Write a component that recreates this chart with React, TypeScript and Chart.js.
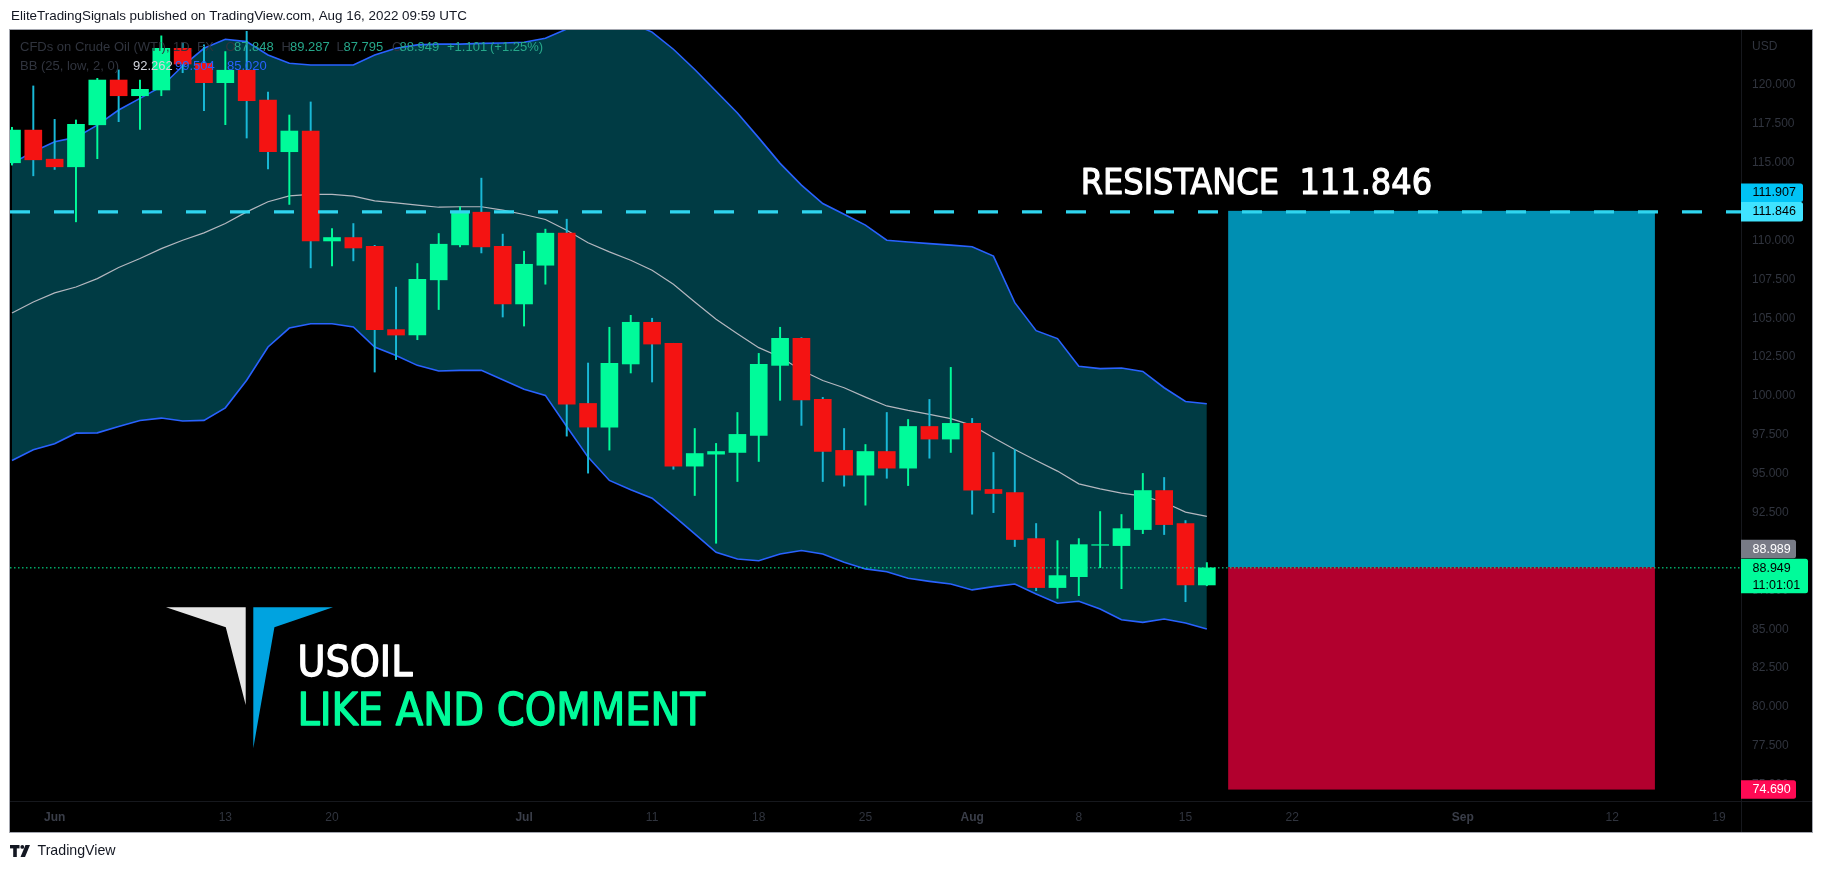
import React, { useEffect, useRef } from 'react';
import { Chart, registerables } from 'chart.js';

Chart.register(...registerables);

// ---------- data ----------
const barDates = [
  'May 27', 'May 31', 'Jun 1', 'Jun 2', 'Jun 3', 'Jun 6', 'Jun 7', 'Jun 8', 'Jun 9', 'Jun 10',
  'Jun 13', 'Jun 14', 'Jun 15', 'Jun 16', 'Jun 17', 'Jun 20', 'Jun 21', 'Jun 22', 'Jun 23', 'Jun 24',
  'Jun 27', 'Jun 28', 'Jun 29', 'Jun 30', 'Jul 1', 'Jul 4', 'Jul 5', 'Jul 6', 'Jul 7', 'Jul 8',
  'Jul 11', 'Jul 12', 'Jul 13', 'Jul 14', 'Jul 15', 'Jul 18', 'Jul 19', 'Jul 20', 'Jul 21', 'Jul 22',
  'Jul 25', 'Jul 26', 'Jul 27', 'Jul 28', 'Jul 29', 'Aug 1', 'Aug 2', 'Aug 3', 'Aug 4', 'Aug 5',
  'Aug 8', 'Aug 9', 'Aug 10', 'Aug 11', 'Aug 12', 'Aug 15', 'Aug 16',
];
const opens = [
  115.0, 117.1, 115.23, 114.74, 117.44, 120.32, 119.31, 119.68, 122.36, 121.39,
  120.15, 120.95, 119.03, 115.71, 117.04, 109.97, 110.19, 109.63, 104.27, 103.92,
  107.47, 109.72, 111.82, 109.63, 105.92, 108.41, 110.47, 99.52, 98.0, 102.06,
  104.74, 103.39, 95.49, 96.26, 96.37, 97.46, 101.97, 103.71, 99.78, 96.5,
  94.91, 96.43, 95.36, 98.04, 97.23, 98.24, 93.99, 93.79, 90.83, 87.68,
  88.38, 90.4, 90.38, 91.41, 93.92, 91.8, 87.848,
];
const highs = [
  117.28, 119.94, 117.79, 117.75, 120.43, 120.97, 120.32, 123.16, 122.7, 122.58,
  122.15, 123.45, 119.55, 118.07, 118.91, 110.77, 111.09, 109.69, 107.0, 108.52,
  110.45, 112.17, 114.01, 110.41, 109.31, 110.73, 111.37, 102.12, 104.42, 105.19,
  105.0, 103.39, 97.91, 96.95, 98.94, 102.74, 104.42, 103.75, 99.91, 97.91,
  96.88, 98.94, 98.49, 99.78, 101.84, 98.56, 96.37, 96.56, 91.8, 90.7,
  90.83, 92.57, 92.38, 95.02, 94.76, 91.99, 89.287,
];
const lows = [
  114.85, 114.16, 114.57, 111.2, 115.26, 117.64, 117.15, 119.31, 120.79, 118.35,
  117.45, 116.59, 114.61, 112.32, 108.24, 108.37, 108.69, 101.54, 102.34, 103.62,
  105.56, 109.59, 109.2, 105.08, 104.5, 107.19, 97.42, 95.04, 96.52, 101.48,
  100.9, 95.29, 93.6, 90.53, 94.5, 95.79, 99.72, 98.11, 94.5, 94.2,
  92.98, 94.71, 94.24, 96.0, 96.37, 92.4, 92.5, 90.32, 87.48, 86.99,
  87.16, 88.96, 87.61, 91.15, 91.09, 86.77, 87.795,
];
const closes = [
  117.1, 115.19, 114.74, 117.47, 120.32, 119.31, 119.72, 122.36, 121.35, 120.15,
  120.95, 118.99, 115.71, 117.04, 109.97, 110.19, 109.52, 104.27, 103.92, 107.51,
  109.76, 111.84, 109.59, 105.92, 108.47, 110.47, 99.48, 98.0, 102.1, 104.74,
  103.34, 95.49, 96.3, 96.43, 97.53, 102.03, 103.71, 99.74, 96.43, 94.91,
  96.43, 95.36, 98.04, 97.23, 98.24, 93.94, 93.73, 90.77, 87.68, 88.45,
  90.44, 90.44, 91.47, 93.92, 91.73, 87.848, 88.949,
];
// Bollinger Bands (25, low, 2, 0)
const bbUpper = [
  114.96, 115.71, 116.35, 116.63, 117.42, 118.39, 119.14, 119.89, 121.22, 122.36,
  122.94, 122.79, 121.93, 121.4, 121.29, 121.29, 121.29, 121.93, 122.36, 122.58,
  122.63, 122.63, 122.68, 122.7, 122.75, 123.0, 123.6, 124.2, 124.4, 124.0,
  123.4, 122.3, 121.0, 119.6, 118.2, 116.6, 114.96, 113.56, 112.38, 111.69,
  110.99, 110.02, 109.9, 109.8, 109.7, 109.6, 109.0, 106.0, 104.2, 103.69,
  101.91, 101.76, 101.8, 101.58, 100.53, 99.65, 99.504,
];
const bbBasis = [
  105.34, 106.05, 106.63, 107.01, 107.55, 108.26, 108.84, 109.48, 110.02, 110.49,
  111.09, 111.84, 112.49, 112.87, 112.96, 112.96, 112.85, 112.55, 112.42, 112.27,
  112.14, 112.17, 112.17, 111.95, 111.67, 111.35, 110.66, 109.85, 109.27, 108.73,
  108.09, 107.19, 106.05, 104.93, 104.01, 103.11, 102.51, 101.65, 101.0, 100.53,
  99.93, 99.36, 99.07, 98.82, 98.54, 98.11, 97.31, 96.56, 95.85, 95.17,
  94.35, 94.03, 93.75, 93.56, 93.17, 92.53, 92.262,
];
const bbLower = [
  95.85, 96.54, 96.93, 97.61, 97.63, 98.04, 98.43, 98.58, 98.39, 98.43,
  99.24, 101.01, 103.15, 104.37, 104.65, 104.65, 104.44, 103.15, 102.61, 101.97,
  101.61, 101.65, 101.65, 101.05, 100.43, 100.04, 98.04, 96.07, 94.57, 93.97,
  93.43, 92.31, 91.13, 89.95, 89.52, 89.41, 89.84, 90.06, 89.84, 89.31,
  88.88, 88.7, 88.28, 88.08, 87.91, 87.53, 87.74, 87.91, 87.27, 86.67,
  86.8, 86.3, 85.61, 85.44, 85.66, 85.4, 85.02,
];
const timeTickIndex = [2, 10, 15, 24, 30, 35, 40, 45, 50, 55, 60, 68, 75, 80];
const timeTickLabels = ['Jun', '13', '20', 'Jul', '11', '18', '25', 'Aug', '8', '15', '22', 'Sep', '12', '19'];
const priceTicks = [75, 77.5, 80, 82.5, 85, 87.5, 90, 92.5, 95, 97.5, 100, 102.5, 105, 107.5, 110, 112.5, 115, 117.5, 120];
const resistanceLevel = 111.846;
const lastPrice = 88.949;
const prevClose = 87.848;
const positionEntry = 88.989;
const positionTarget = 111.907;
const positionStop = 74.69;
const positionStartIndex = 57;
const positionEndIndex = 77;
const legendTitle = 'CFDs on Crude Oil (WTI), 1D, FX';
const bbTitle = 'BB (25, low, 2, 0)';

// ---------- view ----------
const VIEW_X_MIN = -0.092;
const VIEW_X_MAX = 81.035;
const VIEW_Y_MIN = 73.955;
const VIEW_Y_MAX = 123.537;

const W = 1823;
const H = 872;
const UP = '#00fb9a';
const DOWN = '#f41312';
const DOWN_WICK = '#19b9d7';
const DIM = '#30343e';
const SANS = '"Liberation Sans", Arial, sans-serif';
const COND = '"DejaVu Sans Condensed", "DejaVu Sans", sans-serif';

function roundRectRight(ctx: CanvasRenderingContext2D, x: number, y: number, w: number, h: number, r: number) {
  ctx.beginPath();
  ctx.moveTo(x, y);
  ctx.lineTo(x + w - r, y);
  ctx.quadraticCurveTo(x + w, y, x + w, y + r);
  ctx.lineTo(x + w, y + h - r);
  ctx.quadraticCurveTo(x + w, y + h, x + w - r, y + h);
  ctx.lineTo(x, y + h);
  ctx.closePath();
}

function heavyText(ctx: CanvasRenderingContext2D, text: string, x: number, y: number, color: string, size: number) {
  ctx.font = `${size}px ${COND}`;
  ctx.fillStyle = color;
  ctx.strokeStyle = color;
  ctx.lineWidth = size * 0.03;
  ctx.lineJoin = 'round';
  ctx.fillText(text, x, y);
  ctx.strokeText(text, x, y);
}

export default function App() {
  const ref = useRef<HTMLCanvasElement>(null);

  useEffect(() => {
    document.body.style.margin = '0';
    document.body.style.background = '#ffffff';
    const canvas = ref.current!;
    const idx = closes.map((_, i) => i);
    const isUp = idx.map((i) => closes[i] >= opens[i]);

    const decor = {
      id: 'decor',
      beforeDraw(chart: any) {
        const ctx: CanvasRenderingContext2D = chart.ctx;
        ctx.save();
        ctx.fillStyle = '#ffffff';
        ctx.fillRect(0, 0, W, H);
        ctx.fillStyle = '#000000';
        ctx.fillRect(10, 30, 1802, 802);
        // header
        ctx.fillStyle = '#131722';
        ctx.font = `13.4px ${SANS}`;
        ctx.textBaseline = 'middle';
        ctx.textAlign = 'left';
        ctx.fillText('EliteTradingSignals published on TradingView.com, Aug 16, 2022 09:59 UTC', 11, 16.5);
        // footer logo + text
        ctx.fillStyle = '#131722';
        ctx.fillRect(10, 845, 9.5, 3.4);
        ctx.fillRect(13.2, 845, 3.6, 12);
        ctx.beginPath();
        ctx.arc(22.3, 846.9, 1.9, 0, Math.PI * 2);
        ctx.fill();
        ctx.beginPath();
        ctx.moveTo(25.5, 845);
        ctx.lineTo(30, 845);
        ctx.lineTo(25, 857);
        ctx.lineTo(20.5, 857);
        ctx.closePath();
        ctx.fill();
        ctx.font = `14.2px ${SANS}`;
        ctx.fillText('TradingView', 37.5, 851.5);
        ctx.restore();
      },
      beforeDatasetsDraw(chart: any) {
        const ctx: CanvasRenderingContext2D = chart.ctx;
        const xs = chart.scales.x;
        const ys = chart.scales.y;
        const x0 = xs.getPixelForValue(positionStartIndex);
        const x1 = xs.getPixelForValue(positionEndIndex);
        const yT = ys.getPixelForValue(positionTarget);
        const yE = ys.getPixelForValue(positionEntry);
        const yS = ys.getPixelForValue(positionStop);
        ctx.save();
        ctx.fillStyle = '#008fb2';
        ctx.fillRect(x0, yT, x1 - x0, yE - yT);
        ctx.fillStyle = '#b2002e';
        ctx.fillRect(x0, yE, x1 - x0, yS - yE);
        ctx.restore();
      },
      afterDatasetsDraw(chart: any) {
        const ctx: CanvasRenderingContext2D = chart.ctx;
        const ys = chart.scales.y;
        const xs = chart.scales.x;
        ctx.save();
        // logo
        ctx.fillStyle = '#e6e6e6';
        ctx.beginPath();
        ctx.moveTo(166, 607.3);
        ctx.lineTo(245.7, 607.3);
        ctx.lineTo(245.7, 705);
        ctx.lineTo(225.8, 627.3);
        ctx.closePath();
        ctx.fill();
        ctx.fillStyle = '#00a3e0';
        ctx.beginPath();
        ctx.moveTo(253.3, 607.3);
        ctx.lineTo(333, 607.3);
        ctx.lineTo(274.4, 627.3);
        ctx.lineTo(253.3, 748.3);
        ctx.closePath();
        ctx.fill();
        // texts
        ctx.textAlign = 'left';
        ctx.textBaseline = 'alphabetic';
        heavyText(ctx, 'USOIL', 297.5, 676, '#ffffff', 42.5);
        heavyText(ctx, 'LIKE AND COMMENT', 297.5, 725, UP, 44.5);
        const resX = xs.getPixelForValue(positionStartIndex) - 147.5;
        heavyText(ctx, 'RESISTANCE  ' + resistanceLevel.toFixed(3), resX, ys.getPixelForValue(resistanceLevel) - 18, '#ffffff', 35.7);
        ctx.restore();
      },
      afterDraw(chart: any) {
        const ctx: CanvasRenderingContext2D = chart.ctx;
        const ys = chart.scales.y;
        const area = chart.chartArea;
        ctx.save();
        // separators
        ctx.fillStyle = '#16181d';
        ctx.fillRect(area.right, 30, 1, 802);
        ctx.fillRect(10, area.bottom, 1802, 1);
        // frame
        ctx.strokeStyle = '#a3a6af';
        ctx.lineWidth = 1;
        ctx.strokeRect(9.5, 29.5, 1803, 803);
        // USD
        ctx.fillStyle = DIM;
        ctx.font = `12px ${SANS}`;
        ctx.textBaseline = 'middle';
        ctx.textAlign = 'left';
        ctx.fillText('USD', 1752, 46.7);
        // legend
        ctx.font = `13px ${SANS}`;
        const green = '#26a78a';
        const change = lastPrice - prevClose;
        const pct = (change / prevClose) * 100;
        const l1: [string, number, string][] = [
          [legendTitle, 20, DIM],
          ['O', 225.5, DIM], [opens[opens.length - 1].toFixed(3), 234, green],
          ['H', 281.5, DIM], [highs[highs.length - 1].toFixed(3), 290, green],
          ['L', 336.5, DIM], [lows[lows.length - 1].toFixed(3), 343.5, green],
          ['C', 392, DIM], [closes[closes.length - 1].toFixed(3), 399.5, green],
          ['+' + change.toFixed(3), 447, green], ['(+' + pct.toFixed(2) + '%)', 490, green],
        ];
        l1.forEach(([t, x, c]) => { ctx.fillStyle = c; ctx.fillText(t, x, 47.5); });
        const l2: [string, number, string][] = [
          [bbTitle, 20, DIM],
          [bbBasis[bbBasis.length - 1].toFixed(3), 133, '#d1d4dc'],
          [bbUpper[bbUpper.length - 1].toFixed(3), 175, '#2962ff'],
          [bbLower[bbLower.length - 1].toFixed(3), 227, '#2962ff'],
        ];
        l2.forEach(([t, x, c]) => { ctx.fillStyle = c; ctx.fillText(t, x, 66.5); });

        // price tags
        const tag = (top: number, h: number, w: number, bg: string, fg: string, lines: string[]) => {
          ctx.fillStyle = bg;
          roundRectRight(ctx, area.right, top, w, h, 2.5);
          ctx.fill();
          ctx.fillStyle = fg;
          ctx.font = `12.5px ${SANS}`;
          lines.forEach((t, k) => ctx.fillText(t, 1752.5, top + 9.3 + k * 17));
        };
        const resY = ys.getPixelForValue(resistanceLevel);
        const resTop = resY - 9.7;
        tag(resTop, 19.4, 62, '#40e3ff', '#000000', [resistanceLevel.toFixed(3)]);
        tag(resTop - 18.6, 18.4, 62, '#00c3f5', '#000000', [positionTarget.toFixed(3)]);
        const lastTop = ys.getPixelForValue(lastPrice) - 9;
        tag(lastTop, 34.5, 67, UP, '#000000', [lastPrice.toFixed(3), '11:01:01']);
        tag(lastTop - 19, 18.4, 55, '#787b86', '#ffffff', [positionEntry.toFixed(3)]);
        const stopY = ys.getPixelForValue(positionStop);
        tag(stopY - 9.2, 18.4, 55, '#ff0a54', '#ffffff', [positionStop.toFixed(3)]);
        ctx.restore();
      },
    };

    const chart = new Chart(canvas, {
      type: 'bar',
      data: {
        datasets: [
          {
            type: 'line', label: 'BB lower', data: idx.map((i) => ({ x: i, y: bbLower[i] })),
            borderColor: '#2962ff', borderWidth: 1.6, pointRadius: 0, fill: false, order: 10,
          } as any,
          {
            type: 'line', label: 'BB upper', data: idx.map((i) => ({ x: i, y: bbUpper[i] })),
            borderColor: '#2962ff', borderWidth: 1.6, pointRadius: 0, fill: '-1',
            backgroundColor: '#003b44', order: 9,
          } as any,
          {
            type: 'line', label: 'BB basis', data: idx.map((i) => ({ x: i, y: bbBasis[i] })),
            borderColor: '#b4b7bf', borderWidth: 1.2, pointRadius: 0, fill: false, order: 8,
          } as any,
          {
            type: 'bar', label: 'wicks', data: idx.map((i) => ({ x: i, y: [lows[i], highs[i]] })),
            backgroundColor: idx.map((i) => (isUp[i] ? UP : DOWN_WICK)),
            barThickness: 1.3, grouped: false, borderWidth: 0, order: 6,
          } as any,
          {
            type: 'bar', label: 'bodies', data: idx.map((i) => ({ x: i, y: [opens[i], closes[i]] })),
            backgroundColor: idx.map((i) => (isUp[i] ? UP : DOWN)),
            barThickness: 17, grouped: false, borderWidth: 0, order: 5,
          } as any,
          {
            type: 'line', label: 'resistance',
            data: [{ x: VIEW_X_MIN, y: resistanceLevel }, { x: VIEW_X_MAX, y: resistanceLevel }],
            borderColor: '#2fd5ef', borderWidth: 3.3, borderDash: [20, 24], pointRadius: 0, fill: false, order: 2,
          } as any,
          {
            type: 'line', label: 'last',
            data: [{ x: VIEW_X_MIN, y: lastPrice }, { x: VIEW_X_MAX, y: lastPrice }],
            borderColor: UP, borderWidth: 1, borderDash: [1.5, 2.5], pointRadius: 0, fill: false, order: 1,
          } as any,
        ],
      },
      options: {
        animation: false,
        responsive: false,
        devicePixelRatio: 1,
        layout: { padding: { left: 10, top: 30, right: 11, bottom: 40 } },
        plugins: {
          legend: { display: false },
          tooltip: { enabled: false },
          filler: { drawTime: 'beforeDatasetsDraw' },
        } as any,
        scales: {
          x: {
            type: 'linear', min: VIEW_X_MIN, max: VIEW_X_MAX, offset: false,
            grid: { display: false, drawTicks: false }, border: { display: false },
            afterBuildTicks: (s: any) => { s.ticks = timeTickIndex.map((v) => ({ value: v })); },
            afterFit: (s: any) => { s.height = 31; },
            ticks: {
              autoSkip: false, maxRotation: 0, padding: 9,
              color: (c: any) => (/^[A-Z]/.test(timeTickLabels[timeTickIndex.indexOf(c.tick?.value)] || '') ? '#3a3e49' : DIM),
              font: (c: any) => ({
                family: SANS, size: 12,
                weight: /^[A-Z]/.test(timeTickLabels[timeTickIndex.indexOf(c.tick?.value)] || '') ? 'bold' : 'normal',
              }),
              callback: (v: any) => timeTickLabels[timeTickIndex.indexOf(Number(v))] ?? '',
            },
          },
          y: {
            type: 'linear', position: 'right', min: VIEW_Y_MIN, max: VIEW_Y_MAX,
            grid: { display: false, drawTicks: false }, border: { display: false },
            afterBuildTicks: (s: any) => { s.ticks = priceTicks.map((v) => ({ value: v })); },
            afterFit: (s: any) => { s.width = 71; },
            ticks: {
              padding: 11, color: DIM, font: { family: SANS, size: 12 },
              callback: (v: any) => Number(v).toFixed(3),
            },
          },
        },
      } as any,
      plugins: [decor],
    });
    return () => chart.destroy();
  }, []);

  return (
    <div style={{ position: 'absolute', left: 0, top: 0, width: W, height: H }}>
      <canvas ref={ref} width={W} height={H} style={{ display: 'block', width: W, height: H }} />
    </div>
  );
}
